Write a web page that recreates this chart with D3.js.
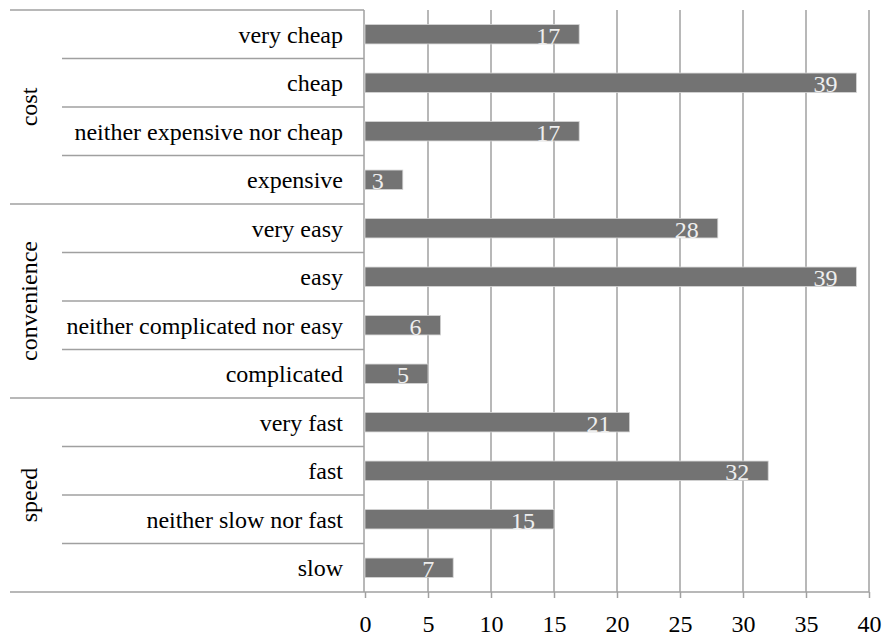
<!DOCTYPE html>
<html>
<head>
<meta charset="utf-8">
<script src="https://cdn.jsdelivr.net/npm/d3@7"></script>
<style>
  body { margin: 0; background: #fff; }
</style>
</head>
<body>
<div id="chart"></div>
<script>
// data, top to bottom
const groups = ["cost", "convenience", "speed"]
const categories = [
  "very cheap", "cheap", "neither expensive nor cheap", "expensive",
  "very easy", "easy", "neither complicated nor easy", "complicated",
  "very fast", "fast", "neither slow nor fast", "slow"
]
const categoryGroup = [0,0,0,0, 1,1,1,1, 2,2,2,2]
const values = [17, 39, 17, 3, 28, 39, 6, 5, 21, 32, 15, 7]
const tickValues = [0, 5, 10, 15, 20, 25, 30, 35, 40]

const width = 883, height = 636
const plotLeft = 365, plotRight = 869, plotTop = 10, plotBottom = 592
const lineColor = "#a0a0a0"
const font = "'Liberation Serif', Tinos, 'Times New Roman', 'DejaVu Serif', serif"

const svg = d3.select("#chart").append("svg")
  .attr("width", width)
  .attr("height", height)
  .style("font-family", font)

const x = d3.scaleLinear().domain([0, 40]).range([plotLeft, plotRight])
const y = d3.scaleBand()
  .domain(categories.map((c, i) => i))
  .range([plotTop, plotBottom])
  .paddingInner(0.6)
  .paddingOuter(0.3)
const step = y.step()

// vertical grid lines
svg.append("g")
  .selectAll("line")
  .data(tickValues.filter(t => t > 0))
  .join("line")
    .attr("x1", d => x(d)).attr("x2", d => x(d))
    .attr("y1", plotTop).attr("y2", plotBottom)
    .attr("stroke", lineColor)
    .attr("stroke-width", 1.5)

// bottom axis with ticks and labels
const axis = d3.axisBottom(x).tickValues(tickValues).tickSize(6).tickPadding(17)
const gx = svg.append("g")
  .attr("transform", `translate(0,${plotBottom})`)
  .call(axis)
  .attr("font-family", null)
gx.select(".domain").remove()
gx.selectAll(".tick line").attr("stroke", lineColor).attr("stroke-width", 1.5)
gx.selectAll(".tick text")
  .style("font-family", font)
  .attr("font-size", 24)
  .attr("fill", "#000")
svg.append("line")
  .attr("x1", 10).attr("x2", plotRight)
  .attr("y1", plotBottom).attr("y2", plotBottom)
  .attr("stroke", lineColor).attr("stroke-width", 1.5)

// vertical axis line
svg.append("line")
  .attr("x1", plotLeft - 1).attr("x2", plotLeft - 1)
  .attr("y1", plotTop).attr("y2", plotBottom)
  .attr("stroke", lineColor).attr("stroke-width", 1.5)

// row separators in the label area (long ones between groups)
const seps = d3.range(categories.length)
svg.append("g")
  .selectAll("line")
  .data(seps)
  .join("line")
    .attr("x1", i => (i === 0 || categoryGroup[i] !== categoryGroup[i - 1]) ? 10 : 62)
    .attr("x2", plotLeft - 1)
    .attr("y1", i => plotTop + i * step)
    .attr("y2", i => plotTop + i * step)
    .attr("stroke", lineColor)
    .attr("stroke-width", 1.5)

// bars
svg.append("g")
  .selectAll("rect")
  .data(values)
  .join("rect")
    .attr("x", x(0))
    .attr("y", (d, i) => y(i))
    .attr("width", d => x(d) - x(0))
    .attr("height", y.bandwidth())
    .attr("fill", "#737373")
    .attr("stroke", "#d4d4d4")
    .attr("stroke-width", 0.8)

// value labels, inside end
svg.append("g")
  .selectAll("text")
  .data(values)
  .join("text")
    .attr("x", d => x(d) - 19)
    .attr("y", (d, i) => y(i) + y.bandwidth())
    .attr("text-anchor", "end")
    .attr("font-size", 24)
    .attr("fill", "#eeeeee")
    .text(d => d)

// category labels
svg.append("g")
  .selectAll("text")
  .data(categories)
  .join("text")
    .attr("x", 343)
    .attr("y", (d, i) => y(i) + y.bandwidth() / 2)
    .attr("dy", "0.35em")
    .attr("text-anchor", "end")
    .attr("font-size", 24)
    .attr("fill", "#000")
    .text(d => d)

// group labels, rotated
svg.append("g")
  .selectAll("text")
  .data(groups)
  .join("text")
    .attr("transform", (g, gi) => {
      const idx = categories.map((c, i) => i).filter(i => categoryGroup[i] === gi)
      const cy = plotTop + (idx[0] + idx.length / 2) * step
      return `translate(37,${cy}) rotate(-90)`
    })
    .attr("text-anchor", "middle")
    .attr("font-size", 24)
    .attr("fill", "#000")
    .text(d => d)
</script>
</body>
</html>
